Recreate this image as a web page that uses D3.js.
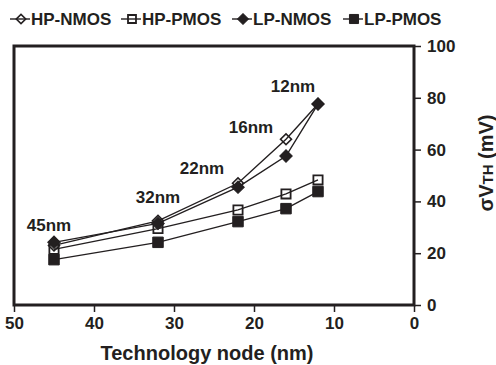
<!DOCTYPE html>
<html>
<head>
<meta charset="utf-8">
<script src="https://cdn.jsdelivr.net/npm/d3@7"></script>
<style>
  body { margin: 0; background: #fff; }
  text { font-family: "Liberation Sans", Arial, sans-serif; font-weight: bold; fill: #231f20; }
</style>
</head>
<body>
<div id="chart"></div>
<script>
// technology nodes (nm)
const nodes = [45, 32, 22, 16, 12];
const nodeLabels = ["45nm", "32nm", "22nm", "16nm", "12nm"];
// sigma VTH (mV) per series
const hpNmos = [23, 32.5, 47, 64, 77.6];
const hpPmos = [21.5, 29.5, 36.7, 42.9, 48.3];
const lpNmos = [24.2, 31.5, 45.5, 57.5, 77.6];
const lpPmos = [17.5, 24.2, 32.2, 37.2, 43.8];
const seriesNames = ["HP-NMOS", "HP-PMOS", "LP-NMOS", "LP-PMOS"];
const xTicks = [50, 40, 30, 20, 10, 0];
const yTicks = [0, 20, 40, 60, 80, 100];

const width = 496, height = 365;
const margin = { left: 14, right: 82, top: 46, bottom: 60 };
const ink = "#231f20";

const svg = d3.select("#chart").append("svg")
  .attr("width", width)
  .attr("height", height);

const x = d3.scaleLinear().domain([50, 0]).range([margin.left, width - margin.right]);
const y = d3.scaleLinear().domain([0, 100]).range([height - margin.bottom, margin.top]);

// marker styles: shape + filled
const styles = [
  { shape: "diamond", filled: false },
  { shape: "square", filled: false },
  { shape: "diamond", filled: true },
  { shape: "square", filled: true }
];

// open markers are hollow, the line shows through them
function marker(g, st, scale) {
  const s = scale || 1;
  if (st.shape === "diamond") {
    const sym = d3.symbol().type(d3.symbolSquare).size(st.filled ? 78 * s : 60 * s);
    g.append("path").attr("d", sym()).attr("transform", "rotate(45)")
      .attr("fill", st.filled ? ink : "none")
      .attr("stroke", ink).attr("stroke-width", st.filled ? 1 : 1.6);
  } else {
    const sym = d3.symbol().type(d3.symbolSquare).size(st.filled ? 110 * s : 85 * s);
    g.append("path").attr("d", sym())
      .attr("fill", st.filled ? ink : "none")
      .attr("stroke", ink).attr("stroke-width", st.filled ? 1 : 1.8);
  }
}

// frame
svg.append("rect")
  .attr("x", x(50)).attr("y", y(100))
  .attr("width", x(0) - x(50)).attr("height", y(0) - y(100))
  .attr("fill", "none").attr("stroke", ink).attr("stroke-width", 3);

// x axis
const xAxis = svg.append("g")
  .attr("transform", `translate(0,${y(0)})`)
  .call(d3.axisBottom(x).tickValues(xTicks).tickSize(7).tickPadding(5).tickFormat(d3.format("d")));
xAxis.select(".domain").remove();
xAxis.selectAll("line").attr("stroke", ink).attr("stroke-width", 1.5);
xAxis.selectAll("text").style("font-size", "17px").attr("fill", ink);

// y axis on the right
const yAxis = svg.append("g")
  .attr("transform", `translate(${x(0)},0)`)
  .call(d3.axisRight(y).tickValues(yTicks).tickSize(7).tickPadding(6));
yAxis.select(".domain").remove();
yAxis.selectAll("line").attr("stroke", ink).attr("stroke-width", 1.5);
yAxis.selectAll("text").style("font-size", "17px").attr("fill", ink);

// axis titles
svg.append("text")
  .attr("x", 207).attr("y", 360)
  .attr("text-anchor", "middle")
  .style("font-size", "20px")
  .text("Technology node (nm)");

const yt = svg.append("text")
  .attr("transform", `translate(493,163) rotate(-90)`)
  .attr("text-anchor", "middle")
  .style("font-size", "20px");
yt.append("tspan").text("σV");
yt.append("tspan").style("font-size", "15px").text("TH");
yt.append("tspan").text(" (mV)");

// series
const allSeries = [hpNmos, hpPmos, lpNmos, lpPmos];
const line = d3.line().x((d, i) => x(nodes[i])).y(d => y(d));

allSeries.forEach((vals) => {
  svg.append("path").datum(vals)
    .attr("d", line)
    .attr("fill", "none").attr("stroke", ink).attr("stroke-width", 1.4);
});

allSeries.forEach((vals, si) => {
  vals.forEach((v, i) => {
    const g = svg.append("g").attr("transform", `translate(${x(nodes[i])},${y(v)})`);
    marker(g, styles[si]);
  });
});

// node labels
const labelPos = [
  { dx: -5, dy: -11 },
  { dx: 0, dy: -18 },
  { dx: -36, dy: -9 },
  { dx: -35, dy: -6 },
  { dx: -25, dy: -12 }
];
nodeLabels.forEach((t, i) => {
  const top = Math.max(hpNmos[i], lpNmos[i]);
  svg.append("text")
    .attr("x", x(nodes[i]) + labelPos[i].dx)
    .attr("y", y(top) + labelPos[i].dy)
    .attr("text-anchor", "middle")
    .style("font-size", "17px")
    .text(t);
});

// legend
const legendX = [10, 121, 232, 343];
seriesNames.forEach((name, i) => {
  const g = svg.append("g").attr("transform", `translate(${legendX[i]},19)`);
  g.append("line").attr("x1", 0).attr("x2", 20).attr("stroke", ink).attr("stroke-width", 1.4);
  const m = g.append("g").attr("transform", "translate(11,0)");
  marker(m, styles[i], 0.75);
  g.append("text").attr("x", 21).attr("y", 6).style("font-size", "17px").text(name);
});
</script>
</body>
</html>
